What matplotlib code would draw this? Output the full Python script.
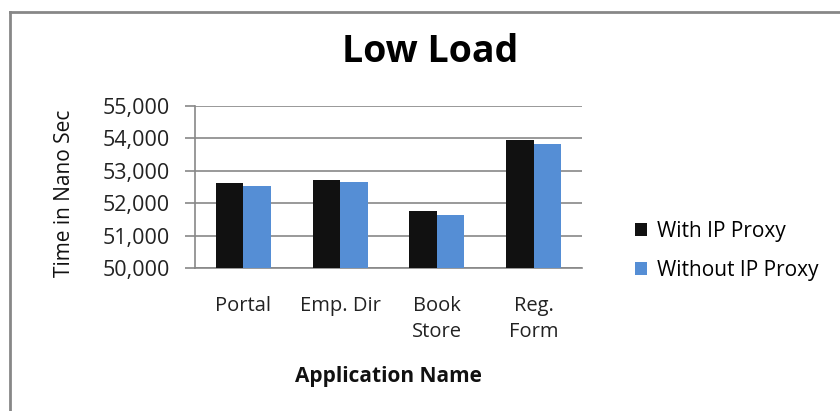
import matplotlib.pyplot as plt
import matplotlib.ticker as ticker
import numpy as np

plt.rcParams['font.family'] = ['Open Sans', 'DejaVu Sans']

# application names and measured times (ns)
apps = ["Portal", "Emp. Dir", "Book\nStore", "Reg.\nForm"]
with_proxy = [52620, 52730, 51770, 53960]
without_proxy = [52540, 52660, 51650, 53840]

grey = "#878787"

fig = plt.figure(figsize=(8.4, 4.11), dpi=100)
ax = fig.add_axes([0.232, 0.348, 0.461, 0.394])

x = np.arange(len(apps))
w = 0.285
ax.bar(x - w / 2, with_proxy, w, color="#111111", label="With IP Proxy", zorder=3)
ax.bar(x + w / 2, without_proxy, w, color="#558ED5", label="Without IP Proxy", zorder=3)

ax.set_xlim(-0.5, len(apps) - 0.5)
ax.set_ylim(50000, 55000)
ax.yaxis.set_major_locator(ticker.MultipleLocator(1000))
ax.yaxis.set_major_formatter(ticker.StrMethodFormatter("{x:,.0f}"))
ax.grid(axis="y", color=grey, linewidth=1.2, zorder=0)

for s in ["top", "right"]:
    ax.spines[s].set_visible(False)
for s in ["left", "bottom"]:
    ax.spines[s].set_color(grey)
    ax.spines[s].set_linewidth(1.2)

ax.tick_params(axis="y", length=7, width=1.2, color=grey, pad=11, labelsize=15.5, labelcolor="#222222")
ax.tick_params(axis="x", length=0, pad=20, labelsize=14.5, labelcolor="#222222")
ax.set_xticks(x)
ax.set_xticklabels(apps, va="top", linespacing=1.45)

ax.set_ylabel("Time in Nano Sec", fontsize=15, color="#111111")
ax.yaxis.set_label_coords(-0.31, 0.463)

fig.text(0.512, 0.873, "Low Load", ha="center", va="center", fontsize=27, fontweight="bold")
fig.text(0.462, 0.085, "Application Name", ha="center", va="center", fontsize=15, fontweight="bold",
         color="#111111")

fig.legend(loc="center left", bbox_to_anchor=(0.744, 0.39), frameon=False, fontsize=15,
           borderpad=0, handlelength=0.58, handleheight=0.58, handletextpad=0.45, labelspacing=0.85)

# chart outline: top and left edges only
fig.add_artist(plt.Line2D([0.012, 1.0], [0.97, 0.97], transform=fig.transFigure, color=grey, linewidth=2))
fig.add_artist(plt.Line2D([0.012, 0.012], [0.0, 0.97], transform=fig.transFigure, color=grey, linewidth=2))

fig.savefig("out.png", dpi=100)
